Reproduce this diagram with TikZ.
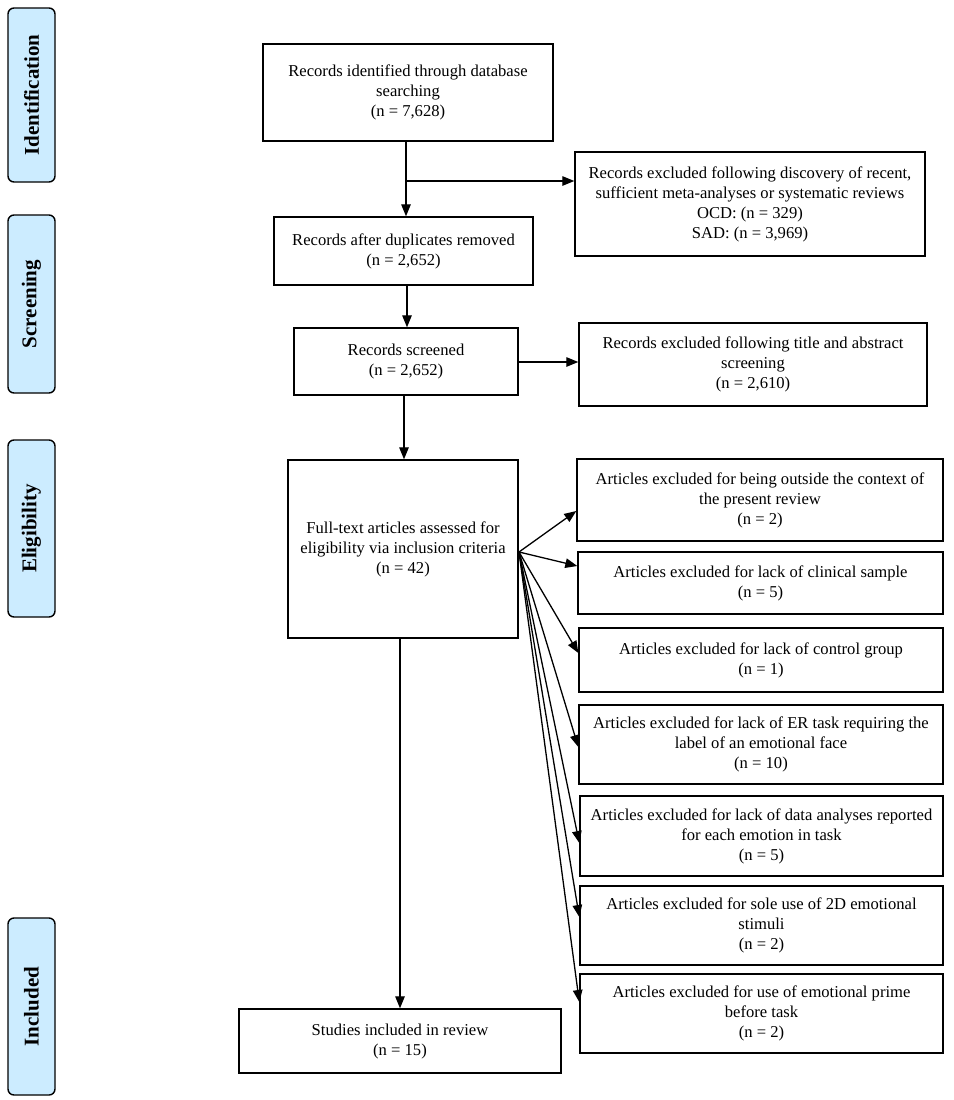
\documentclass[tikz,border=0pt]{standalone}
\usepackage{fontspec}
\setmainfont{Liberation Serif}
\usetikzlibrary{arrows.meta,calc}
\definecolor{phasefill}{RGB}{204,236,255}
\begin{document}
\begin{tikzpicture}[x=1pt,y=-1pt,
  box/.style={draw, line width=1.4pt, inner sep=0pt, align=center,
    font=\fontsize{16.6}{20}\selectfont},
  phase/.style={draw, line width=1.4pt, fill=phasefill, rounded corners=6pt,
    inner sep=0pt, minimum width=47pt, rotate=90,
    font=\fontsize{21}{24}\selectfont\bfseries},
  arr/.style={line width=1.3pt, -{Triangle[length=12pt,width=9.5pt]}}
]
\useasboundingbox (0,0) rectangle (953,1100);

% phase labels
\node[phase, minimum width=174pt, minimum height=47pt] (pid) at (31.5,95) {Identification};
\node[phase, minimum width=178pt, minimum height=47pt] (psc) at (31.5,304) {Screening};
\node[phase, minimum width=177pt, minimum height=47pt] (pel) at (31.5,528.5) {Eligibility};
\node[phase, minimum width=177pt, minimum height=47pt] (pin) at (31.5,1006.5) {Included};

% main column
\node[box, minimum width=290pt, minimum height=97pt] (b1) at (408,92.5)
  {Records identified through database\\searching\\(n = 7,628)};
\node[box, minimum width=350pt, minimum height=104pt] (e1) at (750,204)
  {Records excluded following discovery of recent,\\sufficient meta-analyses or systematic reviews\\OCD: (n = 329)\\SAD: (n = 3,969)};
\node[box, minimum width=259pt, minimum height=68pt] (b2) at (403.5,251)
  {Records after duplicates removed\\(n = 2,652)};
\node[box, minimum width=224pt, minimum height=67pt] (b3) at (406,361.5)
  {Records screened\\(n = 2,652)};
\node[box, minimum width=348pt, minimum height=83pt] (e2) at (753,364.5)
  {Records excluded following title and abstract\\screening\\(n = 2,610)};
\node[box, minimum width=230pt, minimum height=178pt] (b4) at (403,549)
  {Full-text articles assessed for\\eligibility via inclusion criteria\\(n = 42)};
\node[box, minimum width=322pt, minimum height=64pt] (b5) at (400,1041)
  {Studies included in review\\(n = 15)};

% right exclusion boxes
\node[box, minimum width=366pt, minimum height=82pt] (r1) at (760,500)
  {Articles excluded for being outside the context of\\the present review\\(n = 2)};
\node[box, minimum width=365pt, minimum height=62pt] (r2) at (760.5,583)
  {Articles excluded for lack of clinical sample\\(n = 5)};
\node[box, minimum width=364pt, minimum height=64pt] (r3) at (761,660)
  {Articles excluded for lack of control group\\(n = 1)};
\node[box, minimum width=364pt, minimum height=79pt] (r4) at (761,744.5)
  {Articles excluded for lack of ER task requiring the\\label of an emotional face\\(n = 10)};
\node[box, minimum width=363pt, minimum height=80pt] (r5) at (761.5,836)
  {Articles excluded for lack of data analyses reported\\for each emotion in task\\(n = 5)};
\node[box, minimum width=363pt, minimum height=79pt] (r6) at (761.5,925.5)
  {Articles excluded for sole use of 2D emotional\\stimuli\\(n = 2)};
\node[box, minimum width=363pt, minimum height=79pt] (r7) at (761.5,1013.5)
  {Articles excluded for use of emotional prime\\before task\\(n = 2)};

% helper coordinates
\coordinate (s1) at (406,0);
\coordinate (s2) at (407,0);
\coordinate (s3) at (404,0);
\coordinate (s4) at (400,0);
\coordinate (br) at (406,181);
\coordinate (h3) at (0,362);
\coordinate (fan) at (519,552);
\coordinate (t1) at (0,511);
\coordinate (t2) at (0,566);
\coordinate (t3) at (0,653);
\coordinate (t4) at (0,747);
\coordinate (t5) at (0,843);
\coordinate (t6) at (0,917);
\coordinate (t7) at (0,1002);

% connectors
\draw[arr] (b1.south -| s1) -- (b2.north -| s1);
\draw[arr] (br) -- (br -| e1.west);
\draw[arr] (b2.south -| s2) -- (b3.north -| s2);
\draw[arr] (b3.east |- h3) -- (e2.west |- h3);
\draw[arr] (b3.south -| s3) -- (b4.north -| s3);
\draw[arr] (b4.south -| s4) -- (b5.north -| s4);
\draw[arr] (fan) -- (r1.west |- t1);
\draw[arr] (fan) -- (r2.west |- t2);
\draw[arr] (fan) -- (r3.west |- t3);
\draw[arr] (fan) -- (r4.west |- t4);
\draw[arr] (fan) -- (r5.west |- t5);
\draw[arr] (fan) -- (r6.west |- t6);
\draw[arr] (fan) -- (r7.west |- t7);
\end{tikzpicture}
\end{document}
